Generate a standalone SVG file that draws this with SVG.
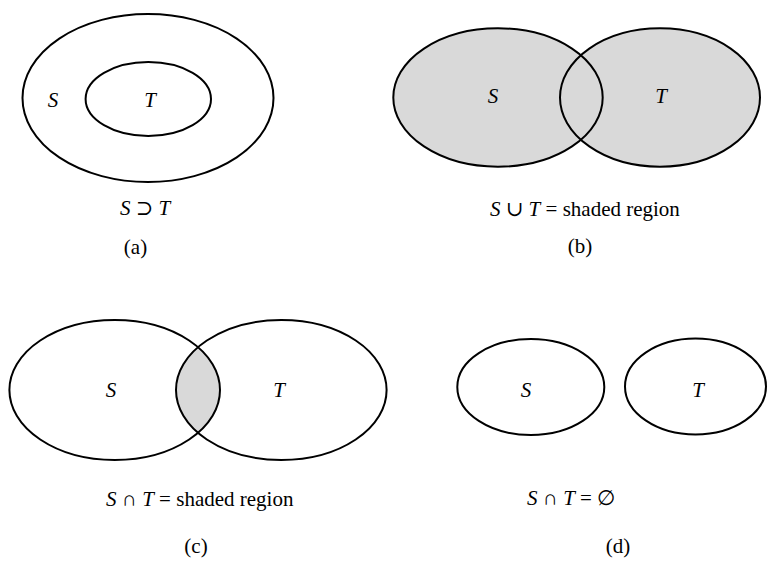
<svg xmlns="http://www.w3.org/2000/svg" width="767" height="561" viewBox="0 0 767 561">
<style>
text{font-family:'Liberation Serif','Times New Roman','DejaVu Serif',serif;font-size:21px;text-anchor:middle}
.e{fill:none;stroke:#000;stroke-width:2}
.f{fill:#d9d9d9;stroke:none}
.i{font-style:italic}
.s{text-anchor:start}
</style>
<defs>
<clipPath id="cl"><ellipse cx="114.7" cy="390" rx="105.3" ry="70"/></clipPath>
</defs>
<rect width="767" height="561" fill="#fff"/>
<g id="a">
<ellipse class="e" cx="148" cy="98" rx="125.5" ry="84"/>
<ellipse class="e" cx="148.3" cy="99" rx="62.7" ry="37"/>
<text class="i" x="53" y="107">S</text>
<text class="i" x="150" y="107">T</text>
<text class="s" x="120" y="215"><tspan class="i">S</tspan> ⊃ <tspan class="i">T</tspan></text>
<text x="135.5" y="254">(a)</text>
</g>
<g id="b">
<ellipse class="f" cx="498" cy="97.5" rx="104.7" ry="69.2"/>
<ellipse class="f" cx="660" cy="97.5" rx="100" ry="69.2"/>
<ellipse class="e" cx="498" cy="97.5" rx="104.7" ry="69.2"/>
<ellipse class="e" cx="660" cy="97.5" rx="100" ry="69.2"/>
<text class="i" x="493" y="103">S</text>
<text class="i" x="661" y="103">T</text>
<text class="s" x="490" y="216"><tspan class="i">S</tspan> ∪ <tspan class="i">T</tspan> = shaded region</text>
<text x="580" y="253">(b)</text>
</g>
<g id="c">
<ellipse class="f" cx="281.3" cy="390" rx="105.3" ry="70" clip-path="url(#cl)"/>
<ellipse class="e" cx="114.7" cy="390" rx="105.3" ry="70"/>
<ellipse class="e" cx="281.3" cy="390" rx="105.3" ry="70"/>
<text class="i" x="111" y="397">S</text>
<text class="i" x="279" y="397">T</text>
<text class="s" x="106" y="506"><tspan class="i">S</tspan> ∩ <tspan class="i">T</tspan> = shaded region</text>
<text x="196" y="553">(c)</text>
</g>
<g id="d">
<ellipse class="e" cx="530.8" cy="387" rx="73.5" ry="48"/>
<ellipse class="e" cx="695.5" cy="386.5" rx="70.5" ry="48"/>
<text class="i" x="526" y="397">S</text>
<text class="i" x="698" y="397">T</text>
<text class="s" x="527" y="505"><tspan class="i">S</tspan> ∩ <tspan class="i">T</tspan> = ∅</text>
<text x="618" y="553">(d)</text>
</g>
</svg>
